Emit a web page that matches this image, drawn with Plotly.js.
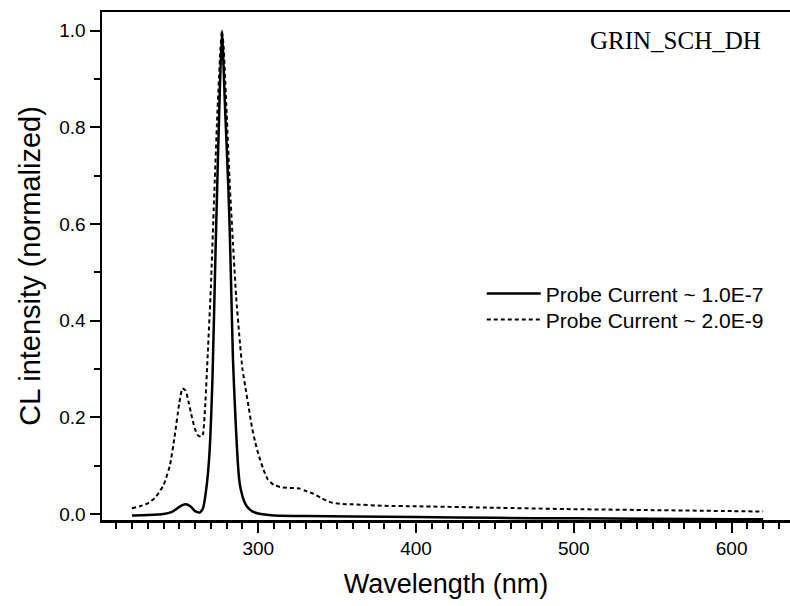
<!DOCTYPE html>
<html>
<head>
<meta charset="utf-8">
<script src="https://cdn.plot.ly/plotly-3.0.1.min.js"></script>
<style>html,body{margin:0;padding:0;background:#fff;}#chart{width:790px;height:606px;}</style>
</head>
<body>
<div id="chart"></div>
<script>
// Probe Current ~ 1.0E-7 (solid)
const wavelengthSolid = [220, 230, 240, 245, 248, 251, 254, 257, 260, 263, 265, 267, 269, 271, 273, 275, 277, 279, 281, 282, 283, 284, 285, 286, 287, 288, 289, 291, 293, 296, 300, 310, 330, 360, 400, 450, 500, 550, 600, 620];
const intensitySolid  = [-0.003, -0.002, 0.0, 0.004, 0.010, 0.017, 0.020, 0.016, 0.006, 0.003, 0.012, 0.05, 0.12, 0.28, 0.55, 0.80, 1.0, 0.84, 0.68, 0.58, 0.45, 0.32, 0.24, 0.17, 0.11, 0.07, 0.05, 0.027, 0.015, 0.006, 0.001, -0.003, -0.004, -0.005, -0.006, -0.008, -0.009, -0.010, -0.011, -0.011];

// Probe Current ~ 2.0E-9 (dashed)
const wavelengthDashed = [220, 225, 230, 235, 240, 244, 247, 250, 252, 254, 256, 258, 260, 262, 264, 265, 266.5, 268, 270, 272, 274, 276, 277, 278, 280, 282, 284, 286, 288, 290, 292, 294, 296, 298, 300, 303, 306, 310, 315, 320, 326, 330, 335, 340, 346, 352, 360, 380, 400, 450, 500, 550, 600, 620];
const intensityDashed  = [0.012, 0.016, 0.022, 0.035, 0.06, 0.10, 0.16, 0.23, 0.26, 0.255, 0.23, 0.20, 0.175, 0.162, 0.16, 0.165, 0.23, 0.33, 0.47, 0.65, 0.82, 0.96, 1.0, 0.97, 0.83, 0.68, 0.56, 0.45, 0.37, 0.30, 0.26, 0.22, 0.18, 0.15, 0.125, 0.095, 0.072, 0.06, 0.055, 0.054, 0.053, 0.048, 0.042, 0.033, 0.024, 0.021, 0.020, 0.017, 0.016, 0.013, 0.010, 0.008, 0.006, 0.005];

const seriesNames = ['Probe Current ~ 1.0E-7', 'Probe Current ~ 2.0E-9'];
const sampleLabel = 'GRIN_SCH_DH';
const xTitle = 'Wavelength (nm)';
const yTitle = 'CL intensity (normalized)';

const traces = [
  {x: wavelengthSolid, y: intensitySolid, name: seriesNames[0], type: 'scatter', mode: 'lines', legend: 'legend',
   line: {color: '#000', width: 2.5, shape: 'spline', smoothing: 0.5}},
  {x: wavelengthDashed, y: intensityDashed, name: seriesNames[1], type: 'scatter', mode: 'lines', legend: 'legend2',
   line: {color: '#000', width: 2, dash: '4px,3px', shape: 'spline', smoothing: 0.5}}
];

const font = 'Liberation Sans, Arial, sans-serif';
const legendFont = {family: font, size: 21, color: '#000'};
const layout = {
  width: 790, height: 606,
  margin: {l: 102, r: 0, t: 12, b: 86},
  paper_bgcolor: '#fff', plot_bgcolor: '#fff',
  showlegend: true,
  legend: {x: 0.552, y: 0.445, xanchor: 'left', yanchor: 'middle', bgcolor: 'rgba(0,0,0,0)',
           font: legendFont, itemwidth: 54},
  legend2: {x: 0.552, y: 0.394, xanchor: 'left', yanchor: 'middle', bgcolor: 'rgba(0,0,0,0)',
           font: legendFont, itemwidth: 54},
  xaxis: {range: [201, 637], showgrid: false, zeroline: false, showline: true, linecolor: '#000', linewidth: 2.5,
          mirror: true, ticks: 'outside', ticklen: 10, tickwidth: 2, tickcolor: '#000', tick0: 0, dtick: 100,
          minor: {dtick: 10, ticklen: 6, tickwidth: 2, ticks: 'outside', tickcolor: '#000'},
          tickfont: {family: font, size: 19, color: '#000'},
          title: {text: xTitle, font: {family: font, size: 27, color: '#000'}, standoff: 16}},
  yaxis: {range: [-0.0124, 1.039], showgrid: false, zeroline: false, showline: true, linecolor: '#000', linewidth: 2.5,
          mirror: false, ticks: 'outside', ticklen: 10, tickwidth: 2, tickcolor: '#000', tick0: 0, dtick: 0.2,
          tickformat: '.1f',
          minor: {dtick: 0.1, ticklen: 6, tickwidth: 2, ticks: 'outside', tickcolor: '#000'},
          tickfont: {family: font, size: 19, color: '#000'},
          title: {text: yTitle, font: {family: font, size: 29, color: '#000'}, standoff: 10}},
  annotations: [{text: sampleLabel, xref: 'paper', yref: 'paper', x: 0.961, y: 0.943, xanchor: 'right', yanchor: 'middle',
                 showarrow: false, font: {family: 'Liberation Serif, Times New Roman, serif', size: 25, color: '#000'}}]
};

Plotly.newPlot('chart', traces, layout, {displayModeBar: false, staticPlot: true});
</script>
</body>
</html>
